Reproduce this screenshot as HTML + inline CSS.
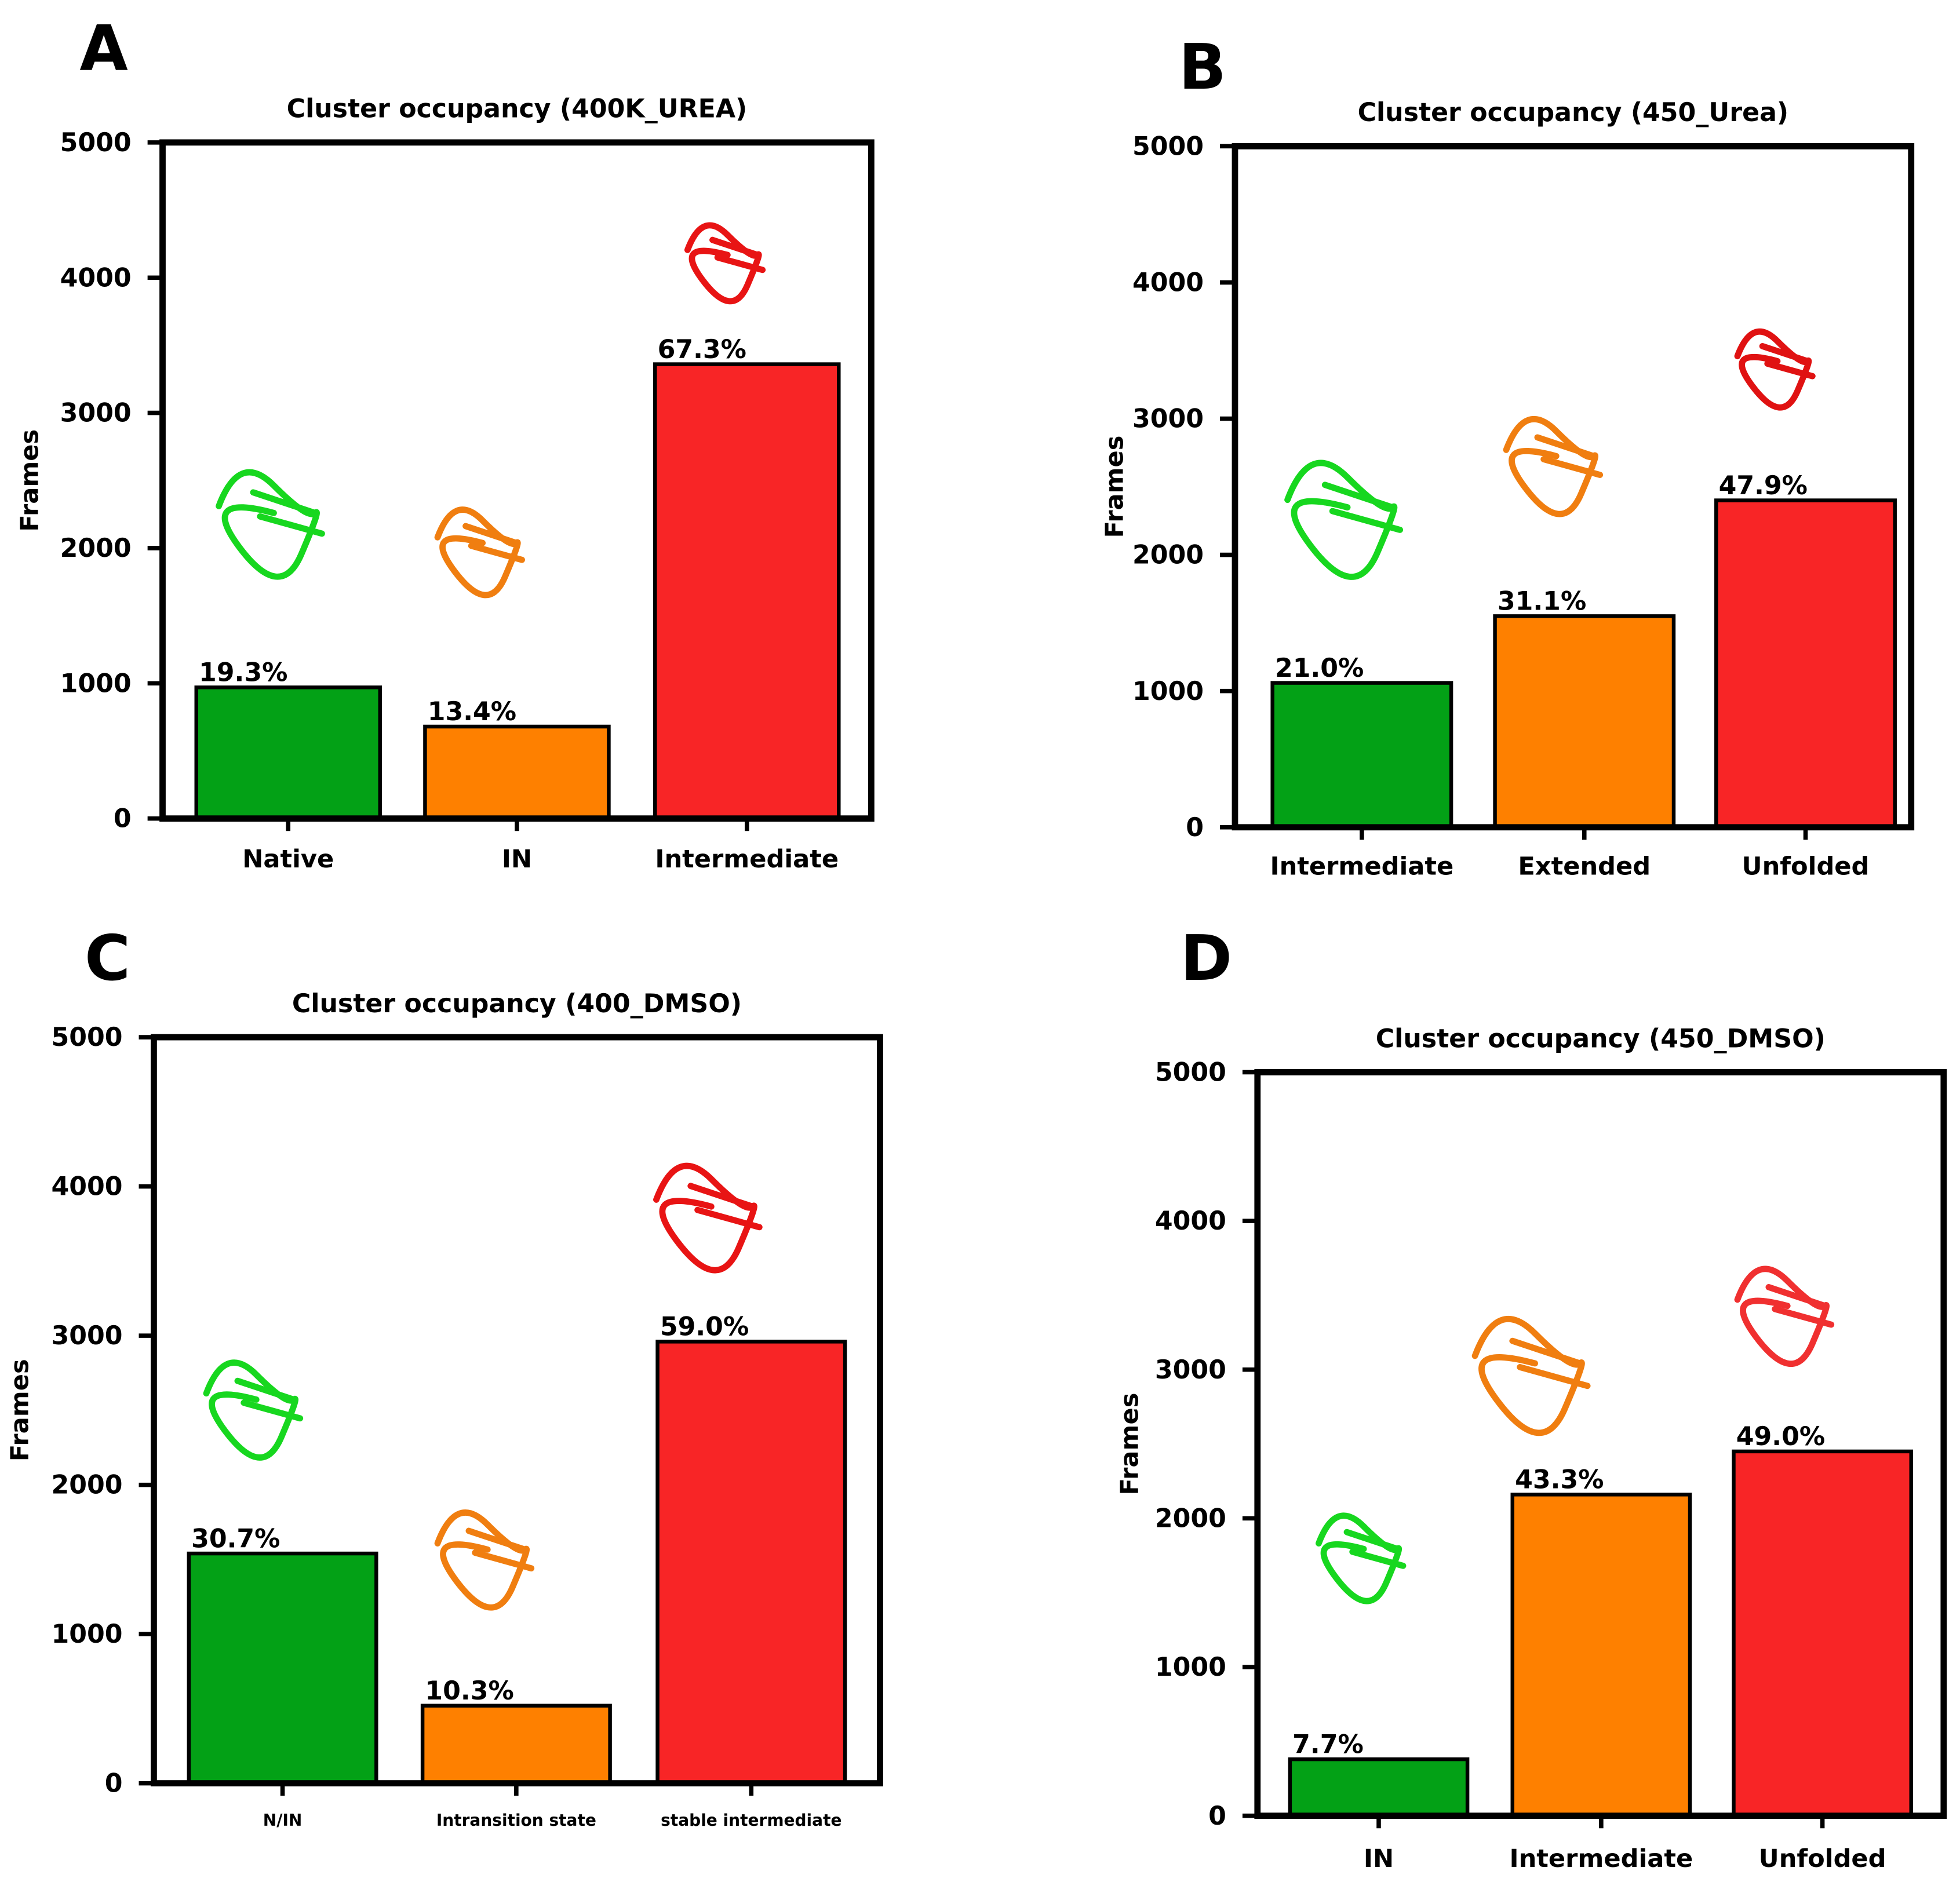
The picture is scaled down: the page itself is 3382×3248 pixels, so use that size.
<!DOCTYPE html>
<html><head><meta charset="utf-8"><style>
html,body{margin:0;padding:0;background:#fff;}
svg{display:block;font-family:"DejaVu Sans","Liberation Sans",sans-serif;font-weight:bold;}
</style></head><body>
<svg id="fig" width="3382" height="3248" viewBox="0 0 1568 1506" xmlns="http://www.w3.org/2000/svg"></svg>
<script>
// Panel A
const catsA = ["Native","IN","Intermediate"];
const valsA = [970, 680, 3360];
const pctA = ["19.3%","13.4%","67.3%"];
// Panel B
const catsB = ["Intermediate","Extended","Unfolded"];
const valsB = [1060, 1550, 2400];
const pctB = ["21.0%","31.1%","47.9%"];
// Panel C
const catsC = ["N/IN","Intransition state","stable intermediate"];
const valsC = [1540, 520, 2960];
const pctC = ["30.7%","10.3%","59.0%"];
// Panel D
const catsD = ["IN","Intermediate","Unfolded"];
const valsD = [380, 2160, 2450];
const pctD = ["7.7%","43.3%","49.0%"];
const yTicks = [0,1000,2000,3000,4000,5000];
const colors = ["#03a116","#fe8000","#f82526"];

const panels = [
 {id:"a",letter:"A",lx:83,ly:56,title:"Cluster occupancy (400K_UREA)",x0:130,x1:697,y0:114,y1:655,bx:[157,340,524],bw:147,cats:catsA,vals:valsA,pct:pctA,ylx:25,xfs:20,xly:694},
 {id:"b",letter:"B",lx:962,ly:71,title:"Cluster occupancy (450_Urea)",x0:988,x1:1529,y0:117,y1:662,bx:[1018,1196,1373],bw:143,cats:catsB,vals:valsB,pct:pctB,ylx:893,xfs:20,xly:700},
 {id:"c",letter:"C",lx:86,ly:784,title:"Cluster occupancy (400_DMSO)",x0:123,x1:704,y0:830,y1:1427,bx:[151,338,526],bw:150,cats:catsC,vals:valsC,pct:pctC,ylx:17,xfs:13,xly:1461},
 {id:"d",letter:"D",lx:965,ly:784,title:"Cluster occupancy (450_DMSO)",x0:1006,x1:1555,y0:858,y1:1453,bx:[1032,1210,1387],bw:142,cats:catsD,vals:valsD,pct:pctD,ylx:905,xfs:20,xly:1494}
];
const NS="http://www.w3.org/2000/svg";
const svg=document.getElementById('fig');
function mk(tag,attrs,parent){const e=document.createElementNS(NS,tag);for(const k in attrs)e.setAttribute(k,attrs[k]);(parent||svg).appendChild(e);return e;}
panels.forEach(p=>{
  const g=mk('g',{});
  
  
  const yS=v=>p.y1-(v/5000)*(p.y1-p.y0);
  const t=mk('text',{x:p.lx,y:p.ly,'font-size':50,'text-anchor':'middle'},g);t.textContent=p.letter;
  
  
  const tt=mk('text',{x:(p.x0+p.x1)/2,y:p.y0-20,'font-size':20.5,'text-anchor':'middle'},g);tt.textContent=p.title;
  
  
  const yl=mk('text',{x:p.ylx,y:(p.y0+p.y1)/2,'font-size':20,'text-anchor':'middle',transform:`rotate(-90 ${p.ylx} ${(p.y0+p.y1)/2})`,'dominant-baseline':'middle'},g);yl.textContent="Frames";
  
  
  yTicks.forEach(v=>{
    const y=yS(v);
    const l=mk('line',{x1:p.x0-12,x2:p.x0,y1:y,y2:y,stroke:'#000','stroke-width':3.5},g);
    
    
    const tx=mk('text',{x:p.x0-25,y:y+7,'font-size':20.5,'text-anchor':'end'},g);tx.textContent=v;
    
    
  });
  p.vals.forEach((v,i)=>{
    const x=p.bx[i],y=yS(v);
    const r=mk('rect',{x:x,y:y,width:p.bw,height:p.y1-y,fill:colors[i],stroke:'#000','stroke-width':3},g);
    
    
    const pl=mk('text',{x:x+2,y:y-5,'font-size':20.5},g);pl.textContent=p.pct[i];
    
    
    const cx=x+p.bw/2;
    const tk=mk('line',{x1:cx,x2:cx,y1:p.y1,y2:p.y1+10,stroke:'#000','stroke-width':3.5},g);
    
    
    const xl=mk('text',{x:cx,y:p.xly,'font-size':p.xfs,'text-anchor':'middle'},g);xl.textContent=p.cats[i];
    
    
  });
  const fr=mk('rect',{x:p.x0,y:p.y0,width:p.x1-p.x0,height:p.y1-p.y0,fill:'none',stroke:'#000','stroke-width':5},g);
  
  
});
// decorative protein structure sketches
const prot=[
 [230,405,"#17d71f",55],[395,430,"#f07e10",45],[590,200,"#e81414",40],
 [1090,400,"#17d71f",60],[1255,360,"#f07e10",50],[1430,285,"#e01212",40],
 [215,1115,"#17d71f",50],[400,1235,"#f07e10",50],[580,960,"#e81414",55],
 [1100,1235,"#17d71f",45],[1240,1085,"#f07e10",60],[1440,1040,"#f03030",50]
];
prot.forEach((q,i)=>{
  const [cx,cy,c,s]=q;
  const d=`M${cx-s} ${cy} q${s*0.3} ${-s*0.8} ${s*0.8} ${-s*0.3} t${s*0.6} ${s*0.4} t${-s*0.2} ${s*0.6} t${-s*0.9} ${-s*0.1} t${s*0.5} ${-s*0.5} M${cx-s*0.5} ${cy-s*0.2} l${s*0.9} ${s*0.3} M${cx-s*0.4} ${cy+s*0.15} l${s*0.9} ${s*0.25}`;
  const pth=mk('path',{d:d,fill:'none',stroke:c,'stroke-width':5,'stroke-linecap':'round'});
  
  
});
</script>
</body></html>
